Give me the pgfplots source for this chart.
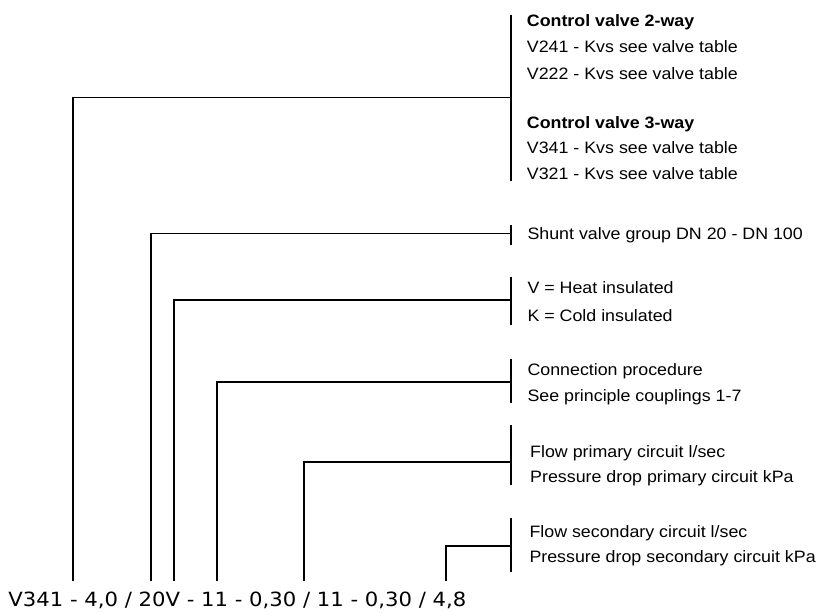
\documentclass[border=0pt]{standalone}
\usepackage{pgfplots}
\pgfplotsset{compat=1.18}
\usepackage{fontspec}
\setmainfont{Liberation Sans}[FakeStretch=1.08]
\newfontfamily\codefont{DejaVu Sans}[FakeStretch=1.08]
\begin{document}
\begin{tikzpicture}
\begin{axis}[
  width=825bp, height=613bp, scale only axis,
  xmin=0, xmax=825, ymin=0, ymax=613, y dir=reverse,
  hide axis, clip=false,
]
\draw[draw=none] (rel axis cs:0,0) rectangle (rel axis cs:1,1);
\tikzset{ld/.style={black, solid, line width=1.6bp, mark=none}}
% leader lines (pixel coordinates, y downward)
\addplot[ld] coordinates {(72.7,580.5) (72.7,97.5) (510.7,97.5)};
\addplot[ld] coordinates {(510.7,14.7) (510.7,181)};
\addplot[ld] coordinates {(150.7,580.5) (150.7,233.5) (510.7,233.5)};
\addplot[ld] coordinates {(510.7,225) (510.7,245)};
\addplot[ld] coordinates {(174,580.5) (174,300) (510.7,300)};
\addplot[ld] coordinates {(510.7,276.7) (510.7,325)};
\addplot[ld] coordinates {(216.7,580.5) (216.7,382) (510.7,382)};
\addplot[ld] coordinates {(510.7,359.3) (510.7,403.3)};
\addplot[ld] coordinates {(304,580.5) (304,462) (510.7,462)};
\addplot[ld] coordinates {(510.7,425) (510.7,485)};
\addplot[ld] coordinates {(446,580.5) (446,546) (510.7,546)};
\addplot[ld] coordinates {(510.7,518.3) (510.7,571.7)};
% labels
\tikzset{lab/.style={anchor=base west, inner sep=0pt, font=\fontsize{16.5bp}{20bp}\selectfont}}
\node[lab] at (axis cs:526.7,26.5) {\bfseries Control valve 2-way};
\node[lab] at (axis cs:526.7,52.5) {V241 - Kvs see valve table};
\node[lab] at (axis cs:526.7,80) {V222 - Kvs see valve table};
\node[lab] at (axis cs:526.7,128.5) {\bfseries Control valve 3-way};
\node[lab] at (axis cs:526.7,153.5) {V341 - Kvs see valve table};
\node[lab] at (axis cs:526.7,179) {V321 - Kvs see valve table};
\node[lab] at (axis cs:527.3,239) {Shunt valve group DN 20 - DN 100};
\node[lab] at (axis cs:527.3,293) {V = Heat insulated};
\node[lab] at (axis cs:527.3,321) {K = Cold insulated};
\node[lab] at (axis cs:527.3,375) {Connection procedure};
\node[lab] at (axis cs:527.3,401) {See principle couplings 1-7};
\node[lab] at (axis cs:530,457.5) {Flow primary circuit l/sec};
\node[lab] at (axis cs:530,482.5) {Pressure drop primary circuit kPa};
\node[lab] at (axis cs:529.3,537.5) {Flow secondary circuit l/sec};
\node[lab] at (axis cs:529.3,562) {Pressure drop secondary circuit kPa};
\node[anchor=base west, inner sep=0pt, font=\codefont\fontsize{19.6bp}{22bp}\selectfont] at (axis cs:8.3,606.7) {V341 - 4,0 / 20V - 11 - 0,30 / 11 - 0,30 / 4,8};
\end{axis}
\end{tikzpicture}
\end{document}
